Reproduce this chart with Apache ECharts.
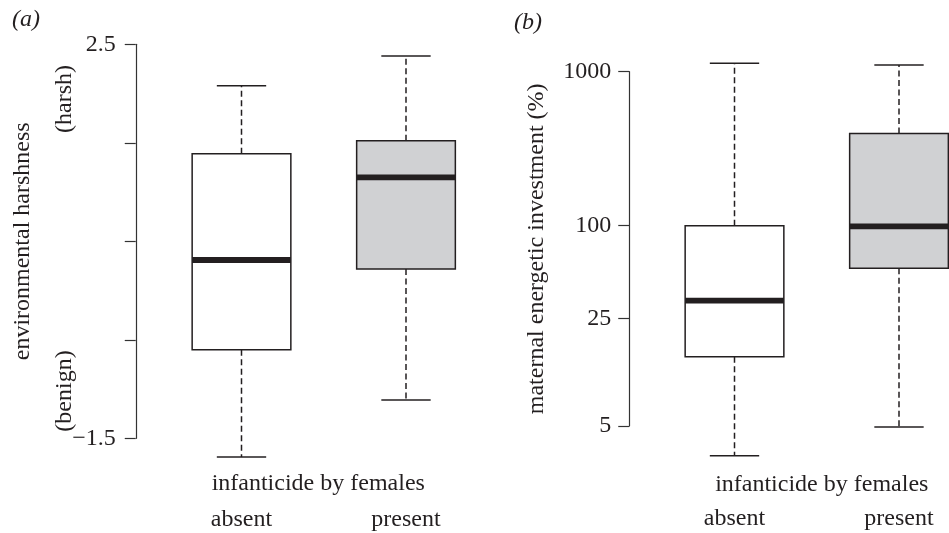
<!DOCTYPE html>
<html>
<head>
<meta charset="utf-8">
<script src="https://cdn.jsdelivr.net/npm/echarts@6/dist/echarts.min.js"></script>
<style>
html,body{margin:0;padding:0;background:#fff;}
#chart{width:949px;height:533px;}
</style>
</head>
<body>
<div id="chart"></div>
<script>
// ---- data ----
const categories = ['absent', 'present'];
// [lower whisker, Q1, median, Q3, upper whisker]
const harshAbsent = [-1.69, -0.60, 0.31, 1.39, 2.08];
const harshPresent = [-1.11, 0.22, 1.15, 1.52, 2.38];
const investAbsent = [3.2, 14.1, 32.6, 100, 1136];
const investPresent = [4.93, 53, 99, 397, 1107];
const harshTicks = [-1.5, -0.5, 0.5, 1.5, 2.5];
const harshLabels = [-1.5, 2.5];
const investTicks = [5, 25, 100, 1000];

const FONT = 'Liberation Serif';
const FS = 24;
const INK = '#231f20';
const FILLS = ['#ffffff', '#d0d1d3'];

function renderBox(params, api) {
  const idx = api.value(0);
  const lo = api.value(1), q1 = api.value(2), med = api.value(3), q3 = api.value(4), hi = api.value(5);
  const pLo = api.coord([idx, lo]);
  const pQ1 = api.coord([idx, q1]);
  const pMed = api.coord([idx, med]);
  const pQ3 = api.coord([idx, q3]);
  const pHi = api.coord([idx, hi]);
  const band = Math.abs(api.coord([1, med])[0] - api.coord([0, med])[0]);
  const bw = band * 0.6, cw = band * 0.3;
  const cx = pMed[0];
  const lineStyle = {stroke: INK, lineWidth: 1.5, fill: null};
  const dashStyle = {stroke: INK, lineWidth: 1.5, lineDash: [6, 3.5], fill: null};
  return {
    type: 'group',
    children: [
      {type: 'line', shape: {x1: cx, y1: pQ3[1], x2: cx, y2: pHi[1]}, style: dashStyle},
      {type: 'line', shape: {x1: cx, y1: pQ1[1], x2: cx, y2: pLo[1]}, style: dashStyle},
      {type: 'line', shape: {x1: cx - cw / 2, y1: pHi[1], x2: cx + cw / 2, y2: pHi[1]}, style: lineStyle},
      {type: 'line', shape: {x1: cx - cw / 2, y1: pLo[1], x2: cx + cw / 2, y2: pLo[1]}, style: lineStyle},
      {type: 'rect', shape: {x: cx - bw / 2, y: pQ3[1], width: bw, height: pQ1[1] - pQ3[1]},
        style: {fill: FILLS[idx], stroke: INK, lineWidth: 1.5}},
      {type: 'line', shape: {x1: cx - bw / 2, y1: pMed[1], x2: cx + bw / 2, y2: pMed[1]},
        style: {stroke: INK, lineWidth: 5.8}}
    ]
  };
}

function fmtNum(v) { return String(v).replace('-', '\u2212'); }

const chart = echarts.init(document.getElementById('chart'), null, {renderer: 'canvas'});
const textBase = {fontFamily: FONT, fontSize: FS, color: INK};

chart.setOption({
  animation: false,
  backgroundColor: '#fff',
  textStyle: {fontFamily: FONT},
  grid: [
    {left: 159.25, width: 329, top: 44.3, height: 394, containLabel: false, outerBoundsMode: 'none'},
    {left: 652.25, width: 329, top: 71.7, height: 354.3, containLabel: false, outerBoundsMode: 'none'}
  ],
  xAxis: [
    {gridIndex: 0, type: 'category', data: categories,
      axisLine: {show: false}, axisTick: {show: false}, splitLine: {show: false},
      axisLabel: Object.assign({margin: 69}, textBase),
      name: 'infanticide by females', nameLocation: 'middle', nameGap: 33, nameMoveOverlap: false,
      nameTextStyle: Object.assign({padding: [0, 11, 0, 0]}, textBase)},
    {gridIndex: 1, type: 'category', data: categories,
      axisLine: {show: false}, axisTick: {show: false}, splitLine: {show: false},
      axisLabel: Object.assign({margin: 81}, textBase),
      name: 'infanticide by females', nameLocation: 'middle', nameGap: 47, nameMoveOverlap: false,
      nameTextStyle: Object.assign({padding: [0, 0, 0, 10]}, textBase)}
  ],
  yAxis: [
    {gridIndex: 0, type: 'value', min: -1.5, max: 2.5, offset: 23.5,
      axisLine: {show: true, lineStyle: {color: '#333', width: 1.2}},
      axisTick: {show: true, length: 11, inside: false, customValues: harshTicks, lineStyle: {color: '#333', width: 1.2}},
      axisLabel: Object.assign({margin: 20, customValues: harshLabels, formatter: fmtNum}, textBase),
      splitLine: {show: false},
      name: 'environmental harshness', nameLocation: 'middle', nameRotate: 90, nameGap: 101, nameMoveOverlap: false,
      nameTextStyle: textBase},
    {gridIndex: 1, type: 'log', logBase: 10, min: 5, max: 1000, offset: 23,
      axisLine: {show: true, lineStyle: {color: '#333', width: 1.2}},
      axisTick: {show: true, length: 11, inside: false, customValues: investTicks, lineStyle: {color: '#333', width: 1.2}},
      axisLabel: Object.assign({margin: 18, customValues: investTicks, formatter: function (v) { return String(v); }}, textBase),
      splitLine: {show: false}, minorTick: {show: false},
      name: 'maternal energetic investment (%)', nameLocation: 'middle', nameRotate: 90, nameGap: 81, nameMoveOverlap: false,
      nameTextStyle: textBase}
  ],
  graphic: [
    {type: 'text', left: 12, top: 8, style: {text: '(a)', font: 'italic ' + FS + 'px "' + FONT + '"', fill: INK}},
    {type: 'text', left: 514, top: 11, style: {text: '(b)', font: 'italic ' + FS + 'px "' + FONT + '"', fill: INK}},
    {type: 'text', x: 65, y: 99, rotation: Math.PI / 2,
      style: {text: '(harsh)', font: FS + 'px "' + FONT + '"', fill: INK, align: 'center', verticalAlign: 'middle'}},
    {type: 'text', x: 65, y: 391, rotation: Math.PI / 2,
      style: {text: '(benign)', font: FS + 'px "' + FONT + '"', fill: INK, align: 'center', verticalAlign: 'middle'}}
  ],
  series: [
    {type: 'custom', xAxisIndex: 0, yAxisIndex: 0, renderItem: renderBox, clip: false,
      encode: {x: 0, y: [1, 2, 3, 4, 5]},
      data: [[0].concat(harshAbsent), [1].concat(harshPresent)]},
    {type: 'custom', xAxisIndex: 1, yAxisIndex: 1, renderItem: renderBox, clip: false,
      encode: {x: 0, y: [1, 2, 3, 4, 5]},
      data: [[0].concat(investAbsent), [1].concat(investPresent)]}
  ]
});
</script>
</body>
</html>
